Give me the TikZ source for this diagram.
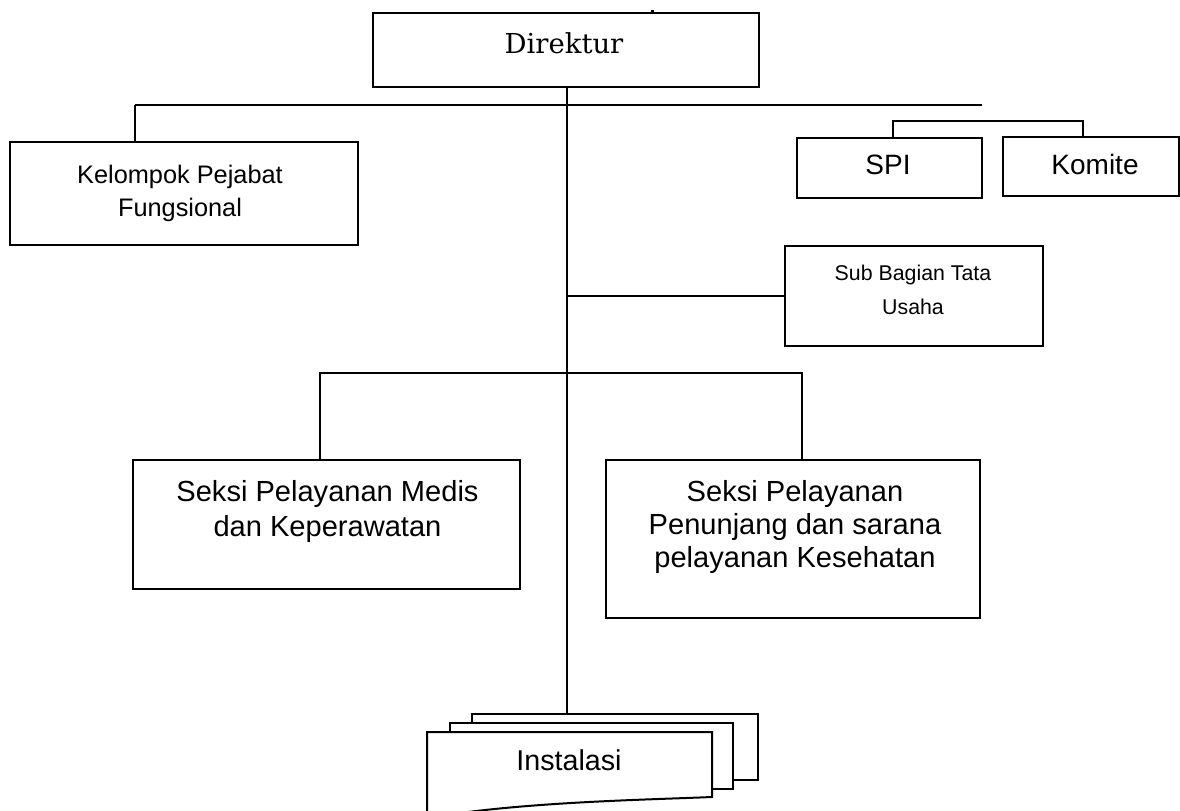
\documentclass[tikz,border=0pt]{standalone}
\usepackage{fontspec}
\setmainfont{Liberation Sans}
\newfontfamily\dirfont{DejaVu Serif}
\usetikzlibrary{fit}
\begin{document}
\begin{tikzpicture}[x=0.75pt,y=-0.75pt,
  box/.style={draw, line width=1.5pt, inner sep=0pt, fill=white},
  lbl/.style={align=center, inner sep=0pt},
  ln/.style={line width=1.5pt}]
\useasboundingbox (0,0) rectangle (1180,810);

% boxes
\node[box, fit={(373,13) (759,87)}] (dir) {};
\node[box, fit={(10,142) (358,245)}] (kel) {};
\node[box, fit={(797,138) (982,198)}] (spi) {};
\node[box, fit={(1003,137) (1179,196)}] (kom) {};
\node[box, fit={(785,246) (1043,346)}] (sub) {};
\node[box, fit={(133,460) (520,589)}] (smed) {};
\node[box, fit={(606,460) (980,618)}] (spen) {};

% Instalasi stack
\node[box, fit={(472,714) (758,780)}] (inst3) {};
\node[box, fit={(450,723) (733,789)}] (inst2) {};
\coordinate (inst1nw) at (427,732);
\coordinate (inst1ne) at (712,732);
\draw[ln, fill=white] (inst1nw) -- (inst1ne) -- (712,797)
  .. controls (640,800) and (520,802) .. (427,818) -- cycle;

% labels
\node[lbl, font=\dirfont\fontsize{20.6}{25}\selectfont] (tdir) at (564,43) {Direktur};
\node[lbl, font=\fontsize{19}{24.75}\selectfont] (tkel) at (180,193.5) {Kelompok Pejabat\\Fungsional};
\node[lbl, font=\fontsize{21}{25}\selectfont] (tspi) at (888,165) {SPI};
\node[lbl, font=\fontsize{21}{25}\selectfont] (tkom) at (1095,164) {Komite};
\node[lbl, font=\fontsize{16}{25.5}\selectfont] (tsub) at (913,290) {Sub Bagian Tata\\Usaha};
\node[lbl, font=\fontsize{21.8}{26}\selectfont] (tsmed) at (327.5,511.5) {Seksi Pelayanan Medis\\dan Keperawatan};
\node[lbl, font=\fontsize{21.8}{25}\selectfont] (tspen) at (795,527) {Seksi Pelayanan\\Penunjang dan sarana\\pelayanan Kesehatan};
\node[lbl, font=\fontsize{21.5}{25}\selectfont] (tinst) at (569,760) {Instalasi};

% small mark above Direktur
\fill (650.5,9.5) rectangle (653.5,13);

% connectors
\coordinate (topL) at (135,105);
\coordinate (topR) at (982,105);
\coordinate (trunk) at (567,105);
\draw[ln] (topL) -- (topR);
\draw[ln] (topL) -- (topL |- kel.north);
\draw[ln] (dir.south -| trunk) -- (inst3.north -| trunk);

\coordinate (skL) at (893,121);
\coordinate (skR) at (1083,121);
\draw[ln] (skL |- spi.north) -- (skL) -- (skR) -- (skR |- kom.north);

\draw[ln] (sub.west -| trunk) -- (sub.west);

\coordinate (midL) at (320,373);
\coordinate (midR) at (802,373);
\draw[ln] (midL |- smed.north) -- (midL) -- (midR) -- (midR |- spen.north);
\end{tikzpicture}
\end{document}
